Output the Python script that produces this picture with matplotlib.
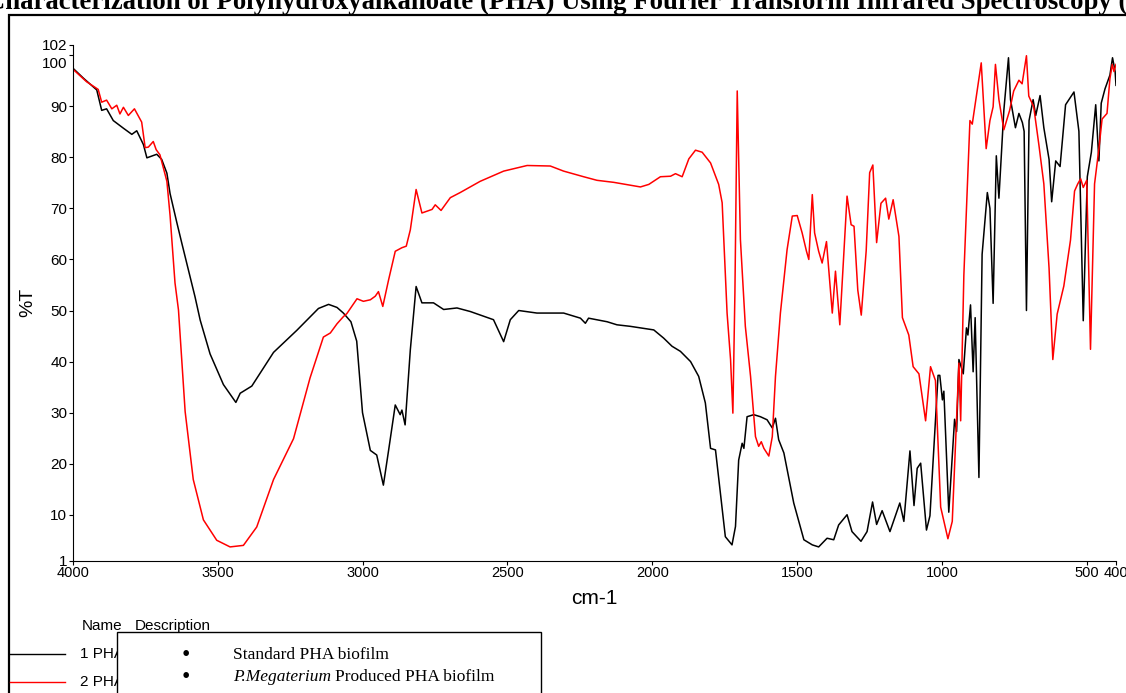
import matplotlib
matplotlib.use('Agg')
import matplotlib.pyplot as plt
import matplotlib.transforms as mtransforms
from matplotlib.patches import Rectangle
from matplotlib.lines import Line2D

W, H = 1126, 693

# wavenumber (cm-1), %T  -- standard PHA biofilm
std_wn = [4000, 3963, 3917, 3900, 3883, 3860, 3825, 3796, 3779, 3756, 3744, 3710, 3693, 3675,
          3664, 3641, 3624, 3601, 3578, 3560, 3526, 3480, 3437, 3422, 3382, 3307, 3227, 3152,
          3117, 3088, 3066, 3040, 3020, 3000, 2973, 2951, 2928, 2910, 2887, 2870, 2864, 2853,
          2835, 2815, 2795, 2755, 2720, 2674, 2628, 2548, 2513, 2490, 2461, 2398, 2306, 2248,
          2231, 2220, 2156, 2122, 2076, 1995, 1961, 1932, 1903, 1868, 1840, 1817, 1799, 1782,
          1765, 1748, 1725, 1713, 1702, 1690, 1684, 1673, 1650, 1627, 1604, 1586, 1575, 1564,
          1546, 1512, 1477, 1448, 1426, 1397, 1374, 1357, 1328, 1311, 1280, 1259, 1240, 1226,
          1207, 1180, 1146, 1132, 1111, 1097, 1086, 1074, 1054, 1042, 1014, 1008, 999, 994,
          977, 957, 950, 942, 927, 916, 911, 902, 893, 886, 873, 862, 844, 835, 824, 813, 804,
          787, 771, 764, 747, 735, 723, 717, 709, 700, 686, 677, 662, 649, 631, 622, 608, 593,
          574, 545, 528, 513, 499, 485, 470, 459, 451, 438, 421, 412, 403, 400]
std_t = [97.5, 95.5, 93.2, 89.2, 89.5, 87.2, 85.7, 84.5, 85.2, 82.5, 79.9, 80.6, 79.6, 76.9,
         72.9, 67.3, 63.3, 58.0, 52.7, 48.1, 41.5, 35.5, 32.0, 33.8, 35.2, 41.8, 46.1, 50.4,
         51.2, 50.6, 49.5, 47.8, 44.0, 30.0, 22.6, 21.7, 15.8, 22.6, 31.5, 29.6, 30.5, 27.6,
         42.3, 54.7, 51.5, 51.5, 50.2, 50.5, 49.8, 48.2, 43.9, 48.2, 50.0, 49.5, 49.5, 48.5,
         47.5, 48.5, 47.8, 47.2, 46.9, 46.2, 44.6, 43.0, 42.0, 40.0, 37.1, 31.9, 23.0, 22.7,
         14.2, 5.7, 4.1, 7.7, 20.7, 24.0, 23.0, 29.2, 29.6, 29.2, 28.6, 27.0, 28.9, 24.7,
         22.1, 12.3, 5.1, 4.1, 3.7, 5.4, 5.1, 8.0, 10.0, 6.7, 4.8, 6.7, 12.5, 8.1,
         10.8, 6.7, 12.3, 8.7, 22.5, 11.8, 19.1, 20.1, 7.0, 9.8, 37.3, 37.3, 32.5, 34.2,
         10.5, 28.7, 26.3, 40.4, 37.6, 46.6, 45.2, 51.1, 38.0, 48.6, 17.3, 61.0, 73.1, 70.0,
         51.4, 80.3, 72.0, 89.2, 99.5, 91.3, 85.8, 88.6, 86.8, 85.1, 50.0, 87.2, 91.3, 88.2,
         92.1, 85.8, 79.6, 71.3, 79.3, 78.2, 90.3, 92.8, 85.1, 48.0, 76.2, 81.0, 90.3, 79.3,
         90.6, 93.4, 96.1, 99.5, 96.8, 94.1]

# wavenumber (cm-1), %T  -- P. megaterium produced PHA biofilm
meg_wn = [4000, 3952, 3912, 3900, 3883, 3865, 3848, 3837, 3825, 3808, 3787, 3762, 3750, 3739,
          3722, 3712, 3699, 3675, 3664, 3647, 3635, 3612, 3584, 3549, 3503, 3457, 3411, 3365,
          3307, 3238, 3181, 3135, 3111, 3088, 3066, 3054, 3019, 2997, 2973, 2956, 2945, 2930,
          2910, 2887, 2864, 2849, 2835, 2815, 2795, 2760, 2749, 2729, 2697, 2663, 2594, 2513,
          2432, 2352, 2306, 2237, 2191, 2133, 2041, 2012, 1972, 1937, 1920, 1897, 1874, 1851,
          1828, 1799, 1771, 1759, 1742, 1730, 1722, 1715, 1707, 1696, 1679, 1661, 1644, 1633,
          1624, 1615, 1598, 1586, 1575, 1558, 1535, 1517, 1500, 1483, 1468, 1460, 1448, 1440,
          1426, 1414, 1399, 1379, 1368, 1353, 1328, 1314, 1304, 1291, 1279, 1262, 1250, 1239,
          1226, 1211, 1195, 1184, 1169, 1149, 1137, 1115, 1100, 1080, 1057, 1040, 1023, 1005,
          980, 965, 942, 936, 925, 913, 904, 896, 881, 865, 848, 835, 824, 816, 804, 787, 767,
          753, 735, 724, 709, 701, 684, 666, 649, 631, 618, 603, 580, 557, 543, 532, 522, 513,
          501, 488, 474, 459, 448, 431, 421, 413, 407, 400]
meg_t = [97.3, 94.8, 93.3, 90.8, 91.2, 89.5, 90.2, 88.5, 89.8, 88.2, 89.5, 86.9, 81.9, 82.0,
         83.1, 81.5, 80.5, 75.3, 68.6, 55.4, 50.1, 30.2, 16.9, 9.0, 5.0, 3.7, 4.0, 7.6,
         16.9, 24.9, 36.8, 44.8, 45.6, 47.4, 48.8, 49.4, 52.3, 51.8, 52.1, 52.8, 53.7, 50.8,
         56.0, 61.6, 62.3, 62.6, 65.8, 73.7, 69.1, 69.8, 70.7, 69.6, 72.1, 73.1, 75.3, 77.3,
         78.4, 78.3, 77.3, 76.2, 75.5, 75.1, 74.2, 74.7, 76.2, 76.3, 76.8, 76.2, 79.7, 81.4,
         81.0, 78.9, 74.7, 71.1, 49.5, 40.4, 29.9, 53.4, 93.0, 63.9, 46.9, 37.1, 25.3, 23.4,
         24.3, 23.0, 21.5, 25.3, 37.1, 49.5, 61.9, 68.5, 68.6, 65.2, 61.6, 60.0, 72.7, 65.2,
         61.6, 59.3, 63.5, 49.5, 57.7, 47.2, 72.4, 66.8, 66.5, 54.0, 49.1, 61.7, 77.0, 78.5,
         63.3, 71.0, 72.0, 67.9, 71.7, 64.5, 48.6, 45.2, 39.0, 37.6, 28.4, 39.0, 36.3, 11.5,
         5.3, 8.7, 39.7, 28.4, 56.9, 74.1, 87.2, 86.5, 92.3, 98.5, 81.7, 87.2, 89.9, 98.2,
         91.3, 85.4, 89.2, 93.0, 95.1, 94.4, 99.9, 92.0, 89.9, 82.4, 74.8, 58.3, 40.4, 49.3,
         54.8, 63.8, 73.4, 74.8, 75.8, 74.1, 75.5, 42.4, 74.8, 81.7, 87.5, 88.6, 95.4, 98.2,
         96.8, 98.2]

x_ticks = [4000, 3500, 3000, 2500, 2000, 1500, 1000, 500, 400]
y_ticks = [1, 10, 20, 30, 40, 50, 60, 70, 80, 90, 100, 102]
title = ('Characterization of Polyhydroxyalkanoate (PHA) Using Fourier Transform '
         'Infrared Spectroscopy (FTIR)')
legend_names = ['1 PHA', '2 PHA']
legend_desc = ['Standard PHA biofilm', 'Produced PHA biofilm']
line_colors = ['black', 'red']

sans = ['Liberation Sans', 'DejaVu Sans']
serif = ['Liberation Serif', 'DejaVu Serif']


def fx(px):
    return px / W


def fy(py):
    return 1 - py / H


fig = plt.figure(figsize=(W / 100, H / 100), dpi=100)
ax = fig.add_axes([fx(72.7), fy(560.7), (1116 - 72.7) / W, (560.7 - 45) / H])

ax.plot(std_wn, std_t, color=line_colors[0], lw=1.1)
ax.plot(meg_wn, meg_t, color=line_colors[1], lw=1.1)

ax.set_xlim(4000, 400)
ax.set_ylim(1, 102)
ax.set_xticks(x_ticks)
ax.set_yticks(y_ticks)
ax.spines['top'].set_visible(False)
ax.spines['right'].set_visible(False)
ax.tick_params(direction='out', length=3, width=0.8, pad=1)
ax.tick_params(axis='x', labelsize=10.5)
ax.tick_params(axis='y', labelsize=11)
for lab in ax.get_xticklabels() + ax.get_yticklabels():
    lab.set_family(sans)
# the 100 label sits a little under its tick in the original
for lab in ax.get_yticklabels():
    if lab.get_text() == '100':
        lab.set_transform(lab.get_transform() +
                          mtransforms.ScaledTranslation(0, -7 / 100, fig.dpi_scale_trans))
ax.set_xlabel('cm-1', family=sans, fontsize=15, labelpad=6)
ax.set_ylabel('%T', family=sans, fontsize=14, labelpad=4)

# title cut by the figure edges, as in the screenshot
fig.text(fx(-14), fy(9), title, ha='left', va='baseline', family=serif,
         fontweight='bold', fontsize=19.3)

# outer frame
fig.patches.append(Rectangle((fx(9), fy(720)), 2, fy(15) - fy(720), transform=fig.transFigure,
                             fill=False, edgecolor='black', lw=1.6))

# legend block
fig.text(fx(82), fy(630), 'Name', family=sans, fontsize=11, va='baseline')
fig.text(fx(135), fy(630), 'Description', family=sans, fontsize=11, va='baseline')
for i, (name, col) in enumerate(zip(legend_names, line_colors)):
    yy = [654, 682][i]
    fig.lines.append(Line2D([fx(10), fx(65)], [fy(yy), fy(yy)], color=col, lw=1,
                            transform=fig.transFigure))
    fig.text(fx(80), fy(yy), name, family=sans, fontsize=11, va='center', zorder=2)

fig.patches.append(Rectangle((fx(117), fy(720)), fx(541) - fx(117), fy(632) - fy(720),
                             transform=fig.transFigure, facecolor='white',
                             edgecolor='black', lw=1, zorder=3.5))
for yy in [655, 677]:
    fig.text(fx(186), fy(yy), '\u2022', family=serif, fontsize=17, ha='center',
             va='center', zorder=4)
fig.text(fx(233), fy(655), legend_desc[0], family=serif, fontsize=12.5,
         va='center', zorder=4)
fig.text(fx(233), fy(677), 'P.Megaterium', family=serif, style='italic', fontsize=12.5,
         va='center', zorder=4)
fig.text(fx(335), fy(677), legend_desc[1], family=serif, fontsize=12.5,
         va='center', zorder=4)

fig.savefig('out.png', dpi=100)
